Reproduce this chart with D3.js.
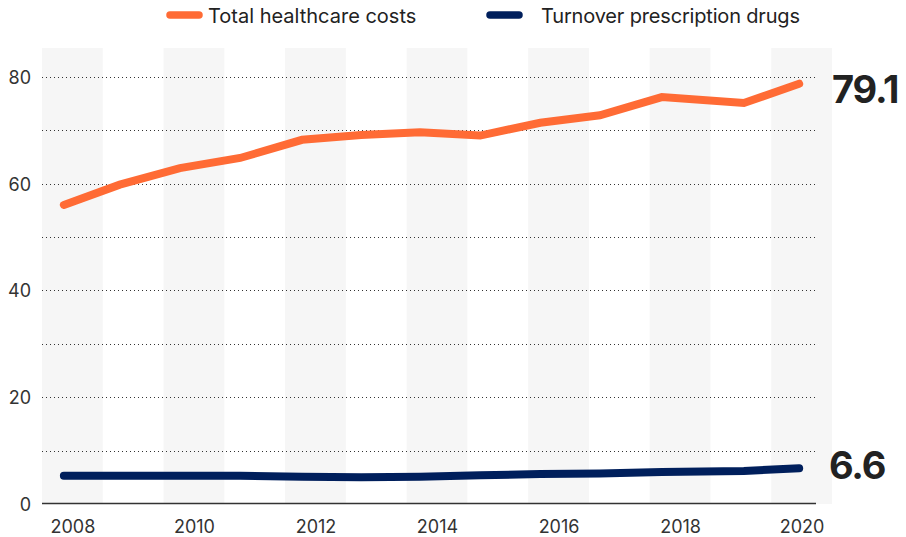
<!DOCTYPE html>
<html>
<head>
<meta charset="utf-8">
<script src="https://cdn.jsdelivr.net/npm/d3@7/dist/d3.min.js"></script>
<style>
  html, body { margin: 0; padding: 0; background: #fff; }
  svg { display: block; font-family: Inter, "Noto Sans", sans-serif; }
</style>
</head>
<body>
<svg id="chart" width="906" height="537"></svg>
<script>
// ---- data ----
const years = [2008, 2009, 2010, 2011, 2012, 2013, 2014, 2015, 2016, 2017, 2018, 2019, 2020];
// horizontal position of each observation on the time axis (decimal years, as drawn in the source)
const obsTime = [2007.86, 2008.78, 2009.77, 2010.76, 2011.78, 2012.75, 2013.72, 2014.71, 2015.70, 2016.68, 2017.70, 2019.05, 2019.96];
const healthcareCosts = [56.0, 59.8, 62.9, 64.8, 68.2, 69.1, 69.6, 69.0, 71.4, 72.8, 76.2, 75.1, 78.7];
const prescriptionDrugs = [5.3, 5.3, 5.3, 5.3, 5.1, 5.0, 5.1, 5.4, 5.6, 5.7, 6.0, 6.2, 6.7];
const xTickYears = [2008, 2010, 2012, 2014, 2016, 2018, 2020];
const yTicks = [0, 20, 40, 60, 80];
const yGrid = [10, 20, 30, 40, 50, 60, 70, 80];
const seriesNames = ["Total healthcare costs", "Turnover prescription drugs"];
const seriesColors = ["#ff6b35", "#001f5c"];
const endLabels = ["79.1", "6.6"];

(function () {
// ---- layout ----
const svg = d3.select("#chart");
const mLeft = 42, mRight = 832, mTop = 48, mBottom = 504, gridRight = 817;

const xBand = d3.scaleBand().domain(years).range([mLeft, mRight]).padding(0);
const x = d3.scaleLinear()
  .domain([years[0], years[years.length - 1]])
  .range([xBand(years[0]) + xBand.bandwidth() / 2, xBand(years[years.length - 1]) + xBand.bandwidth() / 2]);
const y = d3.scaleLinear().domain([0, 80]).range([mBottom, mBottom - 8 * 53.4]);

// background bands (every other year)
svg.append("g").selectAll("rect")
  .data(years.filter((d, i) => i % 2 === 0))
  .join("rect")
  .attr("x", d => xBand(d))
  .attr("y", mTop)
  .attr("width", xBand.bandwidth())
  .attr("height", mBottom - mTop)
  .attr("fill", "#f6f6f6");

// dotted gridlines
svg.append("g").selectAll("line")
  .data(yGrid)
  .join("line")
  .attr("x1", mLeft).attr("x2", gridRight)
  .attr("y1", d => Math.round(y(d)) + 0.5).attr("y2", d => Math.round(y(d)) + 0.5)
  .attr("stroke", "#333")
  .attr("stroke-width", 1)
  .attr("stroke-dasharray", "1,3");

// y axis labels
const yAxis = d3.axisLeft(y).tickValues(yTicks).tickSize(0).tickPadding(0).tickFormat(d3.format("d"));
svg.append("g")
  .attr("transform", `translate(31,0)`)
  .call(yAxis)
  .call(g => g.select(".domain").remove())
  .selectAll("text")
  .attr("font-size", 18)
  .attr("fill", "#333")
  .attr("font-family", "Inter, sans-serif")
  .attr("dy", "0.36em");

// x axis
const xAxis = d3.axisBottom(x).tickValues(xTickYears).tickSize(0).tickPadding(0).tickFormat(d3.format("d"));
svg.append("g")
  .attr("transform", `translate(0,${mBottom})`)
  .call(xAxis)
  .call(g => g.select(".domain").remove())
  .selectAll("text")
  .attr("font-size", 18)
  .attr("fill", "#333")
  .attr("font-family", "Inter, sans-serif")
  .attr("y", 29)
  .attr("dy", 0);

// baseline
svg.append("line")
  .attr("x1", mLeft).attr("x2", gridRight - 1)
  .attr("y1", y(0) - 0.5).attr("y2", y(0) - 0.5)
  .attr("stroke", "#333").attr("stroke-width", 1.5);

// lines
const line = d3.line().x((d, i) => x(obsTime[i])).y(d => y(d));
[healthcareCosts, prescriptionDrugs].forEach((vals, k) => {
  svg.append("path")
    .datum(vals)
    .attr("d", line)
    .attr("fill", "none")
    .attr("stroke", seriesColors[k])
    .attr("stroke-width", 8)
    .attr("stroke-linecap", "round")
    .attr("stroke-linejoin", "miter");
});

// end labels
const endVals = [healthcareCosts[healthcareCosts.length - 1], prescriptionDrugs[prescriptionDrugs.length - 1]];
const endOffsets = [19, 11];
svg.append("g").selectAll("text")
  .data(endLabels)
  .join("text")
  .attr("x", (d, i) => i === 0 ? 832 : 829)
  .attr("y", (d, i) => y(endVals[i]) + endOffsets[i])
  .attr("font-size", 38)
  .attr("font-weight", 700)
  .attr("fill", "#222")
  .attr("font-family", "Inter, sans-serif")
  .attr("letter-spacing", "-1.2")
  .text(d => d);

// legend
const legendX = [166, 486];
const legendTextX = [208, 541];
const lg = svg.append("g");
seriesNames.forEach((name, k) => {
  lg.append("line")
    .attr("x1", legendX[k] + 4).attr("x2", legendX[k] + 33)
    .attr("y1", 15).attr("y2", 15)
    .attr("stroke", seriesColors[k])
    .attr("stroke-width", 7.5)
    .attr("stroke-linecap", "round");
  lg.append("text")
    .attr("x", legendTextX[k])
    .attr("y", 23)
    .attr("font-size", 20)
    .attr("fill", "#222")
    .attr("font-family", "Inter, sans-serif")
    .attr("textLength", k === 1 ? 259 : null)
    .text(name);
});
})();
</script>
</body>
</html>
